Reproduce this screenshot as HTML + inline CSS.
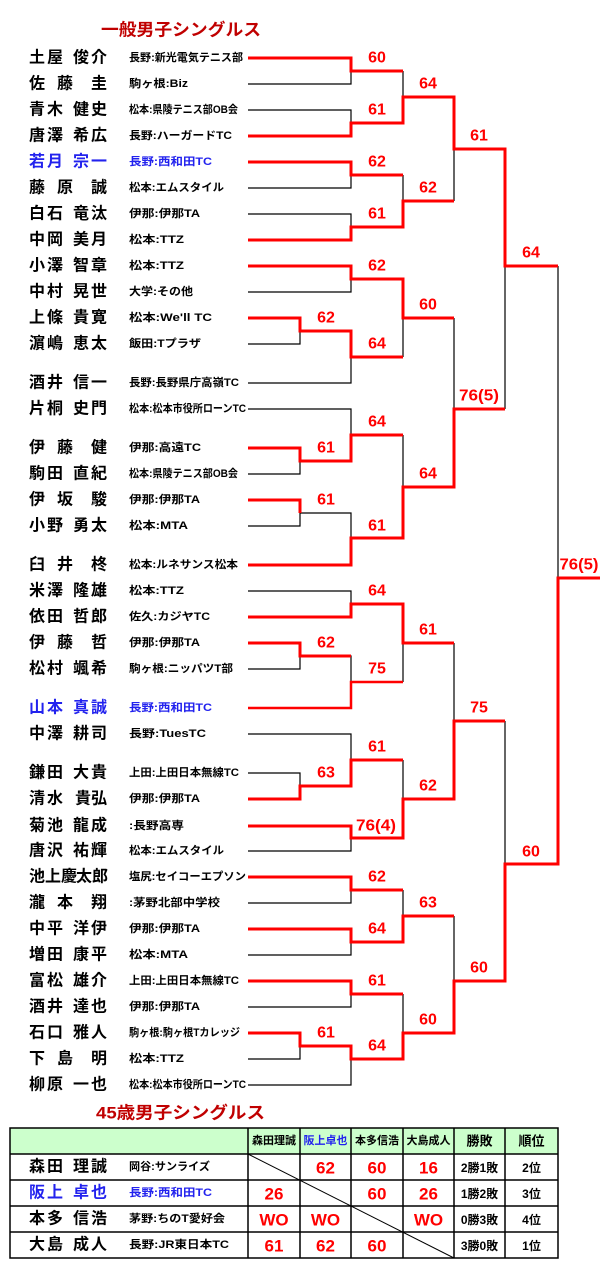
<!DOCTYPE html>
<html><head><meta charset="utf-8">
<style>
html,body{margin:0;padding:0;background:#fff;}
svg{display:block;}
.t{font-family:"Liberation Sans","Noto Sans CJK JP",sans-serif;}
.nm{font-size:16px;font-weight:bold;fill:#000;}
.cl{font-size:11px;font-weight:bold;fill:#000;}
.sc{font-size:16px;font-weight:bold;fill:#f00;text-anchor:middle;}
.b{fill:none;stroke:#000;stroke-width:1.2;}
.r{fill:none;stroke:#f00;stroke-width:3;}
.blue{fill:#2222ee;}
</style></head><body>
<svg width="606" height="1272" viewBox="0 0 606 1272" xmlns="http://www.w3.org/2000/svg">
<g class="t" dominant-baseline="central">
<text x="101" y="30" style="font-size:17px;font-weight:bold;fill:#c00000" textLength="160" lengthAdjust="spacingAndGlyphs">一般男子シングルス</text>

<g class="nm">
<text x="29 47 73 91" y="58">土屋俊介</text>
<text x="29 57 91" y="84">佐藤圭</text>
<text x="29 47 73 91" y="110">青木健史</text>
<text x="29 47 73 91" y="136">唐澤希広</text>
<text x="29 47 73 91" y="162" class="blue">若月宗一</text>
<text x="29 57 91" y="188">藤原誠</text>
<text x="29 47 73 91" y="214">白石竜汰</text>
<text x="29 47 73 91" y="240">中岡美月</text>
<text x="29 47 73 91" y="266">小澤智章</text>
<text x="29 47 73 91" y="292">中村晃世</text>
<text x="29 47 73 91" y="318">上條貴寛</text>
<text x="29 47 73 91" y="344">濵嶋恵太</text>
<text x="29 47 73 91" y="383">酒井信一</text>
<text x="29 47 73 91" y="409">片桐史門</text>
<text x="29 57 91" y="448">伊藤健</text>
<text x="29 47 73 91" y="474">駒田直紀</text>
<text x="29 57 91" y="500">伊坂駿</text>
<text x="29 47 73 91" y="526">小野勇太</text>
<text x="29 57 91" y="565">臼井柊</text>
<text x="29 47 73 91" y="591">米澤隆雄</text>
<text x="29 47 73 91" y="617">依田哲郎</text>
<text x="29 57 91" y="643">伊藤哲</text>
<text x="29 47 73 91" y="669">松村颯希</text>
<text x="29 47 73 91" y="708" class="blue">山本真誠</text>
<text x="29 47 73 91" y="734">中澤耕司</text>
<text x="29 47 73 91" y="773">鎌田大貴</text>
<text x="29 47 75 91" y="799">清水貴弘</text>
<text x="29 47 73 91" y="826">菊池龍成</text>
<text x="29 47 73 91" y="851">唐沢祐輝</text>
<text x="29 45 61 76 92" y="877">池上慶太郎</text>
<text x="29 57 91" y="903">瀧本翔</text>
<text x="29 47 73 91" y="929">中平洋伊</text>
<text x="29 47 73 91" y="955">増田康平</text>
<text x="29 47 73 91" y="981">富松雄介</text>
<text x="29 47 73 91" y="1007">酒井達也</text>
<text x="29 47 73 91" y="1033">石口雅人</text>
<text x="29 57 91" y="1059">下島明</text>
<text x="29 47 73 91" y="1085">柳原一也</text>
</g>

<g class="cl">
<text x="129" y="58" textLength="114" lengthAdjust="spacingAndGlyphs">長野:新光電気テニス部</text>
<text x="129" y="84" textLength="59" lengthAdjust="spacingAndGlyphs">駒ヶ根:Biz</text>
<text x="129" y="110" textLength="109" lengthAdjust="spacingAndGlyphs">松本:県陵テニス部OB会</text>
<text x="129" y="136" textLength="103" lengthAdjust="spacingAndGlyphs">長野:ハーガードTC</text>
<text x="129" y="162" textLength="83" lengthAdjust="spacingAndGlyphs" class="blue">長野:西和田TC</text>
<text x="129" y="188" textLength="95" lengthAdjust="spacingAndGlyphs">松本:エムスタイル</text>
<text x="129" y="214" textLength="71" lengthAdjust="spacingAndGlyphs">伊那:伊那TA</text>
<text x="129" y="240" textLength="55" lengthAdjust="spacingAndGlyphs">松本:TTZ</text>
<text x="129" y="266" textLength="55" lengthAdjust="spacingAndGlyphs">松本:TTZ</text>
<text x="129" y="292" textLength="64" lengthAdjust="spacingAndGlyphs">大学:その他</text>
<text x="129" y="318" textLength="83" lengthAdjust="spacingAndGlyphs">松本:We'll TC</text>
<text x="129" y="344" textLength="72" lengthAdjust="spacingAndGlyphs">飯田:Tプラザ</text>
<text x="129" y="383" textLength="110" lengthAdjust="spacingAndGlyphs">長野:長野県庁高嶺TC</text>
<text x="129" y="409" textLength="117" lengthAdjust="spacingAndGlyphs">松本:松本市役所ローンTC</text>
<text x="129" y="448" textLength="72" lengthAdjust="spacingAndGlyphs">伊那:高遠TC</text>
<text x="129" y="474" textLength="109" lengthAdjust="spacingAndGlyphs">松本:県陵テニス部OB会</text>
<text x="129" y="500" textLength="71" lengthAdjust="spacingAndGlyphs">伊那:伊那TA</text>
<text x="129" y="526" textLength="59" lengthAdjust="spacingAndGlyphs">松本:MTA</text>
<text x="129" y="565" textLength="109" lengthAdjust="spacingAndGlyphs">松本:ルネサンス松本</text>
<text x="129" y="591" textLength="55" lengthAdjust="spacingAndGlyphs">松本:TTZ</text>
<text x="129" y="617" textLength="81" lengthAdjust="spacingAndGlyphs">佐久:カジヤTC</text>
<text x="129" y="643" textLength="71" lengthAdjust="spacingAndGlyphs">伊那:伊那TA</text>
<text x="129" y="669" textLength="104" lengthAdjust="spacingAndGlyphs">駒ヶ根:ニッパツT部</text>
<text x="129" y="708" textLength="83" lengthAdjust="spacingAndGlyphs" class="blue">長野:西和田TC</text>
<text x="129" y="734" textLength="77" lengthAdjust="spacingAndGlyphs">長野:TuesTC</text>
<text x="129" y="773" textLength="110" lengthAdjust="spacingAndGlyphs">上田:上田日本無線TC</text>
<text x="129" y="799" textLength="71" lengthAdjust="spacingAndGlyphs">伊那:伊那TA</text>
<text x="129" y="826" textLength="55" lengthAdjust="spacingAndGlyphs">:長野高専</text>
<text x="129" y="851" textLength="95" lengthAdjust="spacingAndGlyphs">松本:エムスタイル</text>
<text x="129" y="877" textLength="117" lengthAdjust="spacingAndGlyphs">塩尻:セイコーエプソン</text>
<text x="129" y="903" textLength="91" lengthAdjust="spacingAndGlyphs">:茅野北部中学校</text>
<text x="129" y="929" textLength="71" lengthAdjust="spacingAndGlyphs">伊那:伊那TA</text>
<text x="129" y="955" textLength="59" lengthAdjust="spacingAndGlyphs">松本:MTA</text>
<text x="129" y="981" textLength="110" lengthAdjust="spacingAndGlyphs">上田:上田日本無線TC</text>
<text x="129" y="1007" textLength="71" lengthAdjust="spacingAndGlyphs">伊那:伊那TA</text>
<text x="129" y="1033" textLength="111" lengthAdjust="spacingAndGlyphs">駒ヶ根:駒ヶ根Tカレッジ</text>
<text x="129" y="1059" textLength="55" lengthAdjust="spacingAndGlyphs">松本:TTZ</text>
<text x="129" y="1085" textLength="117" lengthAdjust="spacingAndGlyphs">松本:松本市役所ローンTC</text>
</g>
</g>

<path class="b" d="
M248 84H351V71 M248 110H351V123 M403 71V97
M248 188H351V175 M248 214H351V227 M403 175V201 M454 149V201
M248 292H351V279 M248 344H300V331 M248 383H351V357 M403 318V357
M248 409H351V435 M248 474H300V461 M248 526H300V513H351V538
M403 435V487 M454 318V409 M505 266V409 M558 266V578
M248 591H351V604 M248 669H300V656H351V682 M403 643V682
M248 734H351V760 M248 773H300V786 M248 851H351V838 M403 760V799
M454 643V721 M505 721V864
M248 903H351V890 M248 955H351V942 M403 890V916
M248 1007H351V994 M248 1059H300V1046 M248 1085H351V1059
M403 994V1033 M454 916V981"/>

<path class="r" d="
M248 58H351V71H403
M248 136H351V123H403V97H454V149H505V266H558
M248 162H351V175H403
M248 240H351V227H403V201H454
M248 266H351V279H403V318H454
M248 318H300V331H351V357H403
M248 448H300V461H351V435H403
M248 500H300V513
M248 565H351V538H403V487H454V409H505
M248 617H351V604H403V643H454
M248 643H300V656H351
M248 799H300V786H351V760H403
M248 826H351V838H403V799H454V721H505
M248 877H351V890H403
M248 929H351V942H403V916H454
M248 981H351V994H403
M248 1033H300V1046H351V1059H403V1033H454V981H505V864H558V578H600"/>
<path d="M248 708H351V682H403" fill="none" stroke="#f00" stroke-width="2.5"/>

<g class="t sc" dominant-baseline="central">
<text x="377" y="58">60</text>
<text x="377" y="110">61</text>
<text x="428" y="84">64</text>
<text x="377" y="162">62</text>
<text x="377" y="214">61</text>
<text x="428" y="188">62</text>
<text x="479" y="136">61</text>
<text x="531" y="253">64</text>
<text x="377" y="266">62</text>
<text x="326" y="318">62</text>
<text x="377" y="344">64</text>
<text x="428" y="305">60</text>
<text x="326" y="448">61</text>
<text x="377" y="422">64</text>
<text x="326" y="500">61</text>
<text x="377" y="526">61</text>
<text x="428" y="474">64</text>
<text x="479" y="396" textLength="40" lengthAdjust="spacingAndGlyphs">76(5)</text>
<text x="579" y="565" textLength="39" lengthAdjust="spacingAndGlyphs">76(5)</text>
<text x="377" y="591">64</text>
<text x="326" y="643">62</text>
<text x="377" y="669">75</text>
<text x="428" y="630">61</text>
<text x="479" y="708">75</text>
<text x="326" y="773">63</text>
<text x="377" y="747">61</text>
<text x="376" y="826" textLength="40" lengthAdjust="spacingAndGlyphs">76(4)</text>
<text x="428" y="786">62</text>
<text x="531" y="852">60</text>
<text x="377" y="877">62</text>
<text x="377" y="929">64</text>
<text x="428" y="903">63</text>
<text x="377" y="981">61</text>
<text x="326" y="1033">61</text>
<text x="377" y="1046">64</text>
<text x="428" y="1020">60</text>
<text x="479" y="968">60</text>
</g>

<g class="t" dominant-baseline="central">
<text x="96" y="1113" style="font-size:17px;font-weight:bold;fill:#c00000" textLength="169" lengthAdjust="spacingAndGlyphs">45歳男子シングルス</text>
<rect x="10" y="1128" width="548" height="26" fill="#ccffcc"/>
<g stroke="#000" stroke-width="1.5" fill="none">
<rect x="10" y="1128" width="548" height="130"/>
<path d="M10 1154H558 M10 1180H558 M10 1206H558 M10 1232H558 M248 1128V1258 M300 1128V1258 M351 1128V1258 M403 1128V1258 M454 1128V1258 M505 1128V1258"/>
</g>
<path d="M248 1154L454 1258" stroke="#000" stroke-width="1"/>
<g style="font-size:11px;font-weight:bold" text-anchor="middle">
<text x="274" y="1141">森田理誠</text>
<text x="325.5" y="1141" class="blue">阪上卓也</text>
<text x="377" y="1141">本多信浩</text>
<text x="428.5" y="1141">大島成人</text>
<text x="479.5" y="1141" style="font-size:13px">勝敗</text>
<text x="531.5" y="1141" style="font-size:13px">順位</text>
</g>
<g class="nm">
<text x="29 47 73 91" y="1167">森田理誠</text>
<text x="29 47 73 91" y="1193" class="blue">阪上卓也</text>
<text x="29 47 73 91" y="1219">本多信浩</text>
<text x="29 47 73 91" y="1245">大島成人</text>
</g>
<g class="cl">
<text x="129" y="1167" textLength="81" lengthAdjust="spacingAndGlyphs">岡谷:サンライズ</text>
<text x="129" y="1193" textLength="83" lengthAdjust="spacingAndGlyphs" class="blue">長野:西和田TC</text>
<text x="129" y="1219" textLength="96" lengthAdjust="spacingAndGlyphs">茅野:ちのT愛好会</text>
<text x="129" y="1245" textLength="100" lengthAdjust="spacingAndGlyphs">長野:JR東日本TC</text>
</g>
<g class="sc" style="font-size:17px">
<text x="325.5" y="1168">62</text><text x="377" y="1168">60</text><text x="428.5" y="1168">16</text>
<text x="274" y="1194">26</text><text x="377" y="1194">60</text><text x="428.5" y="1194">26</text>
<text x="274" y="1220">WO</text><text x="325.5" y="1220">WO</text><text x="428.5" y="1220">WO</text>
<text x="274" y="1246">61</text><text x="325.5" y="1246">62</text><text x="377" y="1246">60</text>
</g>
<g style="font-size:12px;font-weight:bold" text-anchor="middle">
<text x="479.5" y="1168">2勝1敗</text><text x="531.5" y="1168">2位</text>
<text x="479.5" y="1194">1勝2敗</text><text x="531.5" y="1194">3位</text>
<text x="479.5" y="1220">0勝3敗</text><text x="531.5" y="1220">4位</text>
<text x="479.5" y="1246">3勝0敗</text><text x="531.5" y="1246">1位</text>
</g>
</g>
</svg>
</body></html>
